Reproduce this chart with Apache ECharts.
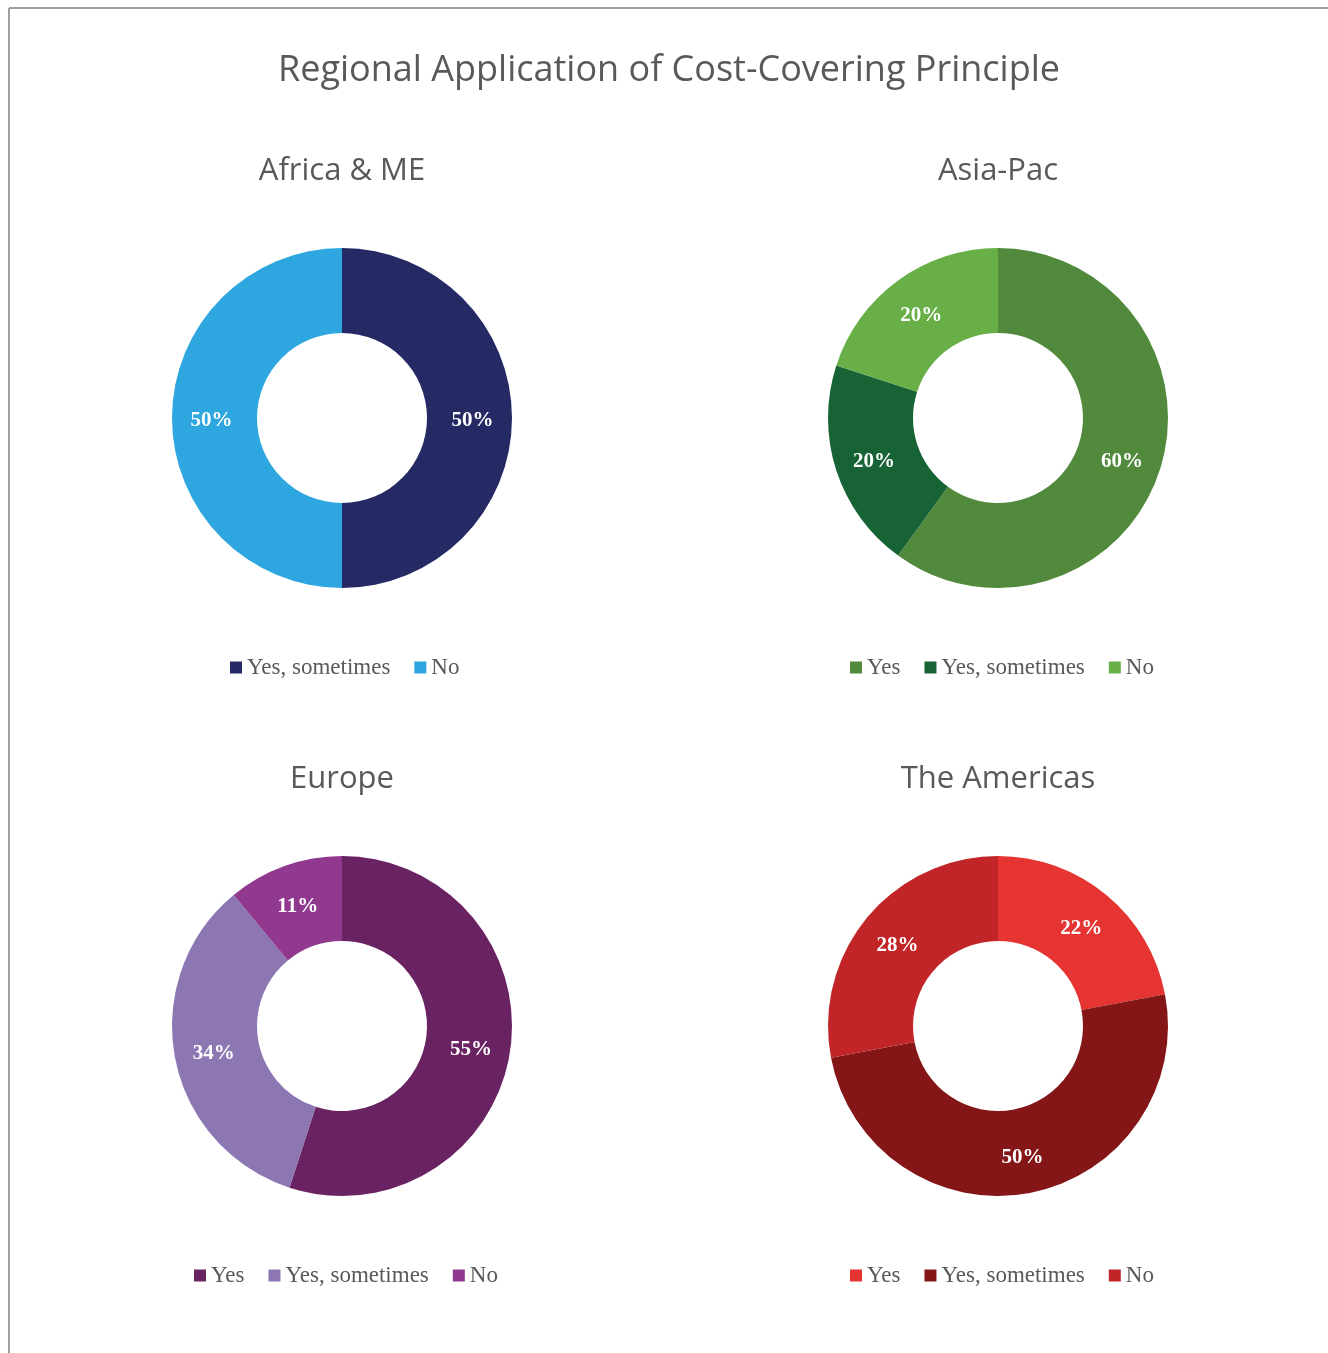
<!DOCTYPE html>
<html>
<head>
<meta charset="utf-8">
<script src="https://cdn.jsdelivr.net/npm/echarts@6/dist/echarts.min.js"></script>
<style>
html,body{margin:0;padding:0;background:#fff;}
#chart{width:1328px;height:1353px;}
</style>
</head>
<body>
<div id="chart"></div>
<script>
// ---- data ----
const chartTitle = 'Regional Application of Cost-Covering Principle';
const regions = ['Africa & ME', 'Asia-Pac', 'Europe', 'The Americas'];
const africaNames = ['Yes, sometimes', 'No'];
const africaValues = [50, 50];
const asiaNames = ['Yes', 'Yes, sometimes', 'No'];
const asiaValues = [60, 20, 20];
const europeNames = ['Yes', 'Yes, sometimes', 'No'];
const europeValues = [55, 34, 11];
const americasNames = ['Yes', 'Yes, sometimes', 'No'];
const americasValues = [22, 50, 28];

// ---- styles ----
const africaColors = ['#262A64', '#2EA6DF'];
const asiaColors = ['#518A3C', '#176335', '#67AF46'];
const europeColors = ['#6A2362', '#8D77B3', '#90398E'];
const americasColors = ['#E53431', '#851617', '#C12527'];

const panels = [
  {names: africaNames, values: africaValues, colors: africaColors, cx: 342, cy: 418, legendLeft: 230, legendTop: 656, titleTop: 156},
  {names: asiaNames, values: asiaValues, colors: asiaColors, cx: 998, cy: 418, legendLeft: 850, legendTop: 656, titleTop: 156},
  {names: europeNames, values: europeValues, colors: europeColors, cx: 342, cy: 1026, legendLeft: 194, legendTop: 1264, titleTop: 764},
  {names: americasNames, values: americasValues, colors: americasColors, cx: 998, cy: 1026, legendLeft: 850, legendTop: 1264, titleTop: 764}
];

const titleFont = 'Open Sans';
const serifFont = 'Liberation Serif';

const titles = [{
  text: chartTitle, left: 669, top: 53, textAlign: 'center', padding: 0,
  textStyle: {fontFamily: titleFont, fontSize: 36, fontWeight: 'normal', color: '#595959'}
}];
const legends = [];
const series = [];

panels.forEach((p, i) => {
  titles.push({
    text: regions[i], left: p.cx, top: p.titleTop, textAlign: 'center', padding: 0,
    textStyle: {fontFamily: titleFont, fontSize: 31, fontWeight: 'normal', color: '#595959'}
  });
  legends.push({
    seriesIndex: i,
    left: p.legendLeft, top: p.legendTop,
    padding: 0,
    orient: 'horizontal',
    itemWidth: 12, itemHeight: 12, itemGap: 24,
    icon: 'rect',
    selectedMode: false,
    textStyle: {fontFamily: serifFont, fontSize: 23, color: '#595959'},
    data: p.names.map((n, k) => ({name: n, itemStyle: {color: p.colors[k]}}))
  });
  series.push({
    type: 'pie',
    name: regions[i],
    radius: [85, 170],
    center: [p.cx, p.cy],
    startAngle: 90,
    clockwise: true,
    silent: true,
    animation: false,
    avoidLabelOverlap: false,
    label: {
      show: true, position: 'inside',
      formatter: (params) => '{p|' + Math.round(params.percent) + '%}',
      rich: {
        p: {padding: [6, 0, 0, 0], color: '#ffffff', fontFamily: serifFont, fontWeight: 'bold', fontSize: 21}
      },
      color: '#ffffff', fontFamily: serifFont, fontWeight: 'bold', fontSize: 21
    },
    labelLine: {show: false},
    itemStyle: {borderWidth: 0},
    emphasis: {disabled: true},
    data: p.names.map((n, k) => ({name: n, value: p.values[k], itemStyle: {color: p.colors[k]}}))
  });
});

const chart = echarts.init(document.getElementById('chart'), null, {renderer: 'canvas'});
chart.setOption({
  backgroundColor: '#ffffff',
  animation: false,
  title: titles,
  legend: legends,
  series: series,
  graphic: [
    {type: 'line', shape: {x1: 9, y1: 8, x2: 1328, y2: 8}, style: {stroke: '#A0A0A0', lineWidth: 2}},
    {type: 'line', shape: {x1: 9, y1: 8, x2: 9, y2: 1353}, style: {stroke: '#A0A0A0', lineWidth: 2}}
  ]
});
</script>
</body>
</html>
